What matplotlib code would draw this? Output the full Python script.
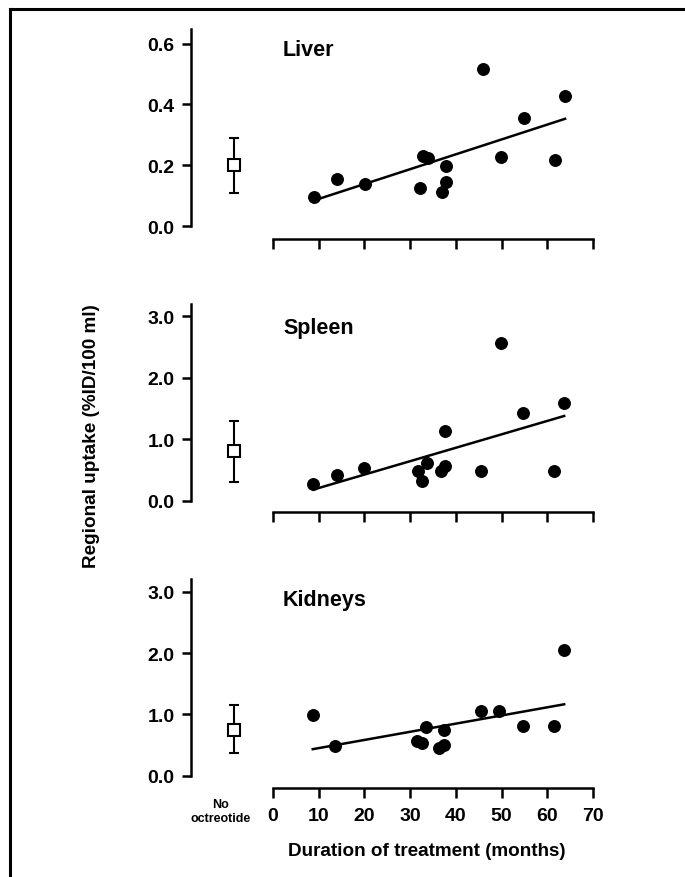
import numpy as np
import matplotlib
matplotlib.use("Agg")
import matplotlib.pyplot as plt
from matplotlib.lines import Line2D
from matplotlib.transforms import blended_transform_factory

plt.rcParams["font.family"] = ["Liberation Sans", "DejaVu Sans"]
plt.rcParams["font.weight"] = "bold"

# Liver (months, %ID/100 ml)
liver_x = [9.0, 14.1, 20.1, 32.2, 32.9, 34.0, 36.9, 37.8, 37.8, 45.9, 49.9, 55.0, 61.8, 63.9]
liver_y = [0.094, 0.154, 0.14, 0.124, 0.23, 0.225, 0.112, 0.145, 0.196, 0.517, 0.228, 0.356, 0.216, 0.427]

# Spleen
spleen_x = [8.8, 13.9, 19.9, 31.8, 32.7, 33.6, 36.7, 37.6, 37.6, 45.5, 49.8, 54.8, 61.5, 63.7]
spleen_y = [0.27, 0.41, 0.53, 0.48, 0.32, 0.61, 0.49, 0.56, 1.13, 0.48, 2.56, 1.43, 0.48, 1.59]

# Kidneys
kidney_x = [8.7, 13.6, 31.4, 32.5, 33.5, 36.4, 37.5, 37.5, 45.5, 49.5, 54.6, 61.5, 63.7]
kidney_y = [0.99, 0.49, 0.57, 0.53, 0.79, 0.45, 0.50, 0.75, 1.06, 1.06, 0.81, 0.81, 2.05]

# no octreotide group: mean, low, high
ctrl_mean = [0.20, 0.80, 0.745]
ctrl_low = [0.11, 0.30, 0.365]
ctrl_high = [0.29, 1.29, 1.15]

organs = ["Liver", "Spleen", "Kidneys"]
y_ticks = [[0.0, 0.2, 0.4, 0.6], [0.0, 1.0, 2.0, 3.0], [0.0, 1.0, 2.0, 3.0]]
x_ticks = [0, 10, 20, 30, 40, 50, 60, 70]

CTRL_X = -8.5

fig = plt.figure(figsize=(6.85, 8.78), dpi=100)

# axes boxes in figure fraction: left, bottom, width, height
boxes = [
    [0.2784, 0.7272, 0.6006, 0.2392],
    [0.2784, 0.4154, 0.6006, 0.2372],
    [0.2784, 0.1014, 0.6006, 0.2380],
]
ylims = [(-0.041, 0.65), (-0.19, 3.2), (-0.2, 3.21)]
title_y = [0.58, 2.82, 2.88]

xs = [liver_x, spleen_x, kidney_x]
ys = [liver_y, spleen_y, kidney_y]

for i in range(3):
    ax = fig.add_axes(boxes[i])
    x = np.array(xs[i])
    y = np.array(ys[i])

    ax.plot(x, y, "o", color="black", ms=8.3, clip_on=False, zorder=3)

    slope, icpt = np.polyfit(x, y, 1)
    xx = np.array([x.min(), x.max()])
    ax.plot(xx, slope * xx + icpt, color="black", lw=1.8)

    err = [[ctrl_mean[i] - ctrl_low[i]], [ctrl_high[i] - ctrl_mean[i]]]
    ax.errorbar([CTRL_X], [ctrl_mean[i]], yerr=err, fmt="s", color="black",
                mfc="white", mec="black", ms=8.5, mew=1.5, elinewidth=1.5,
                capsize=3.6, capthick=1.5, zorder=4)

    ax.set_xlim(-18, 72)
    ax.set_ylim(*ylims[i])
    ax.set_yticks(y_ticks[i])
    ax.set_yticklabels([f"{v:.1f}" for v in y_ticks[i]])
    ax.set_xticks(x_ticks)
    if i == 2:
        ax.set_xticklabels([str(v) for v in x_ticks])
    else:
        ax.set_xticklabels([])

    for s in ["top", "right"]:
        ax.spines[s].set_visible(False)
    ax.spines["left"].set_bounds(0, ylims[i][1])
    ax.spines["bottom"].set_bounds(0, 70)
    ax.spines["left"].set_linewidth(1.8)
    ax.spines["bottom"].set_linewidth(1.8)
    ax.tick_params(axis="y", length=6.5, width=1.8, pad=5, labelsize=14)
    ax.tick_params(axis="x", length=7.5, width=1.8, pad=6.5, labelsize=14)
    for lab in ax.get_xticklabels() + ax.get_yticklabels():
        lab.set_fontweight("bold")
    ax.patch.set_visible(False)

    ax.text(2.2, title_y[i], organs[i], fontsize=15.5, fontweight="bold",
            ha="left", va="center")

    if i == 2:
        tr = blended_transform_factory(ax.transData, ax.transAxes)
        ax.text(-11.4, -0.11, "No\noctreotide", transform=tr, fontsize=9,
                fontweight="bold", ha="center", va="center",
                multialignment="center", linespacing=1.15)

fig.text(92 / 685, 1 - 436 / 878, "Regional uptake (%ID/100 ml)", rotation=90,
         fontsize=13.6, fontweight="bold", ha="center", va="center")
fig.text(427 / 685, 1 - 852 / 878, "Duration of treatment (months)",
         fontsize=13.6, fontweight="bold", ha="center", va="center")

# frame: top and left edges only are visible in the crop
fig.add_artist(Line2D([10 / 685, 1.0], [1 - 10 / 878, 1 - 10 / 878],
                      transform=fig.transFigure, color="black", lw=2.2))
fig.add_artist(Line2D([10 / 685, 10 / 685], [0.0, 1 - 10 / 878],
                      transform=fig.transFigure, color="black", lw=2.2))

fig.savefig("out.png", dpi=100)
